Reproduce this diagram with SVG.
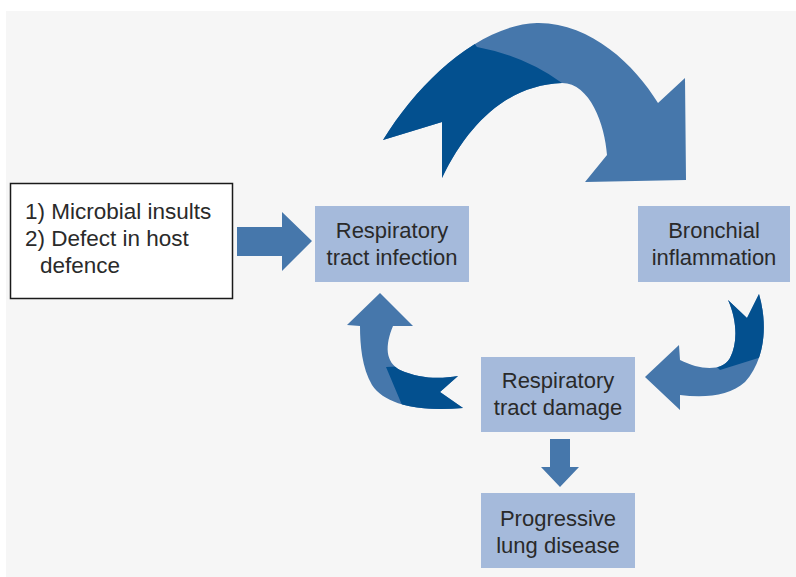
<svg xmlns="http://www.w3.org/2000/svg" width="796" height="577" viewBox="0 0 796 577">
<style>
.box{fill:#a5badb}
.t{font-family:"Liberation Sans",Arial,sans-serif;font-size:22px;fill:#2a2a2a;text-anchor:middle}
.tl{font-family:"Liberation Sans",Arial,sans-serif;font-size:22.5px;fill:#2a2a2a}
.lt{fill:#4677ab}
.dk{fill:#03508f}
</style>
<defs>
<clipPath id="cBig"><path d="M300,0 L440,0 L477,47 Q525,56 562,83 L562,210 L300,210 Z"/></clipPath>
<clipPath id="cR"><path d="M716,250 L800,250 L800,345 L720,370 L716,366 Z"/></clipPath>
<clipPath id="cL"><path d="M386,367 L402,405 L402,420 L480,420 L480,363 Z"/></clipPath>
</defs>
<rect x="6" y="11" width="790" height="566" fill="#f6f6f6"/>

<g id="connectors">
  <path id="arrowInput" class="lt" d="M237,227 L282,227 L282,212 L312,241 L282,271 L282,256 L237,256 Z"/>
  <g id="arrowBig">
    <path class="lt" d="M383,140 C420,80 480,25 537,23 C590,22 635,65 658,103 L685,78 L686,180 L585,182 L607,155 C605,125 590,83 562,83 C510,85 470,120 442,178 L442,122 Z"/>
    <path class="dk" clip-path="url(#cBig)" d="M383,140 C420,80 480,25 537,23 C590,22 635,65 658,103 L685,78 L686,180 L585,182 L607,155 C605,125 590,83 562,83 C510,85 470,120 442,178 L442,122 Z"/>
  </g>
  <g id="arrowRight">
    <path class="lt" d="M728,300 L747,318 L759,294 C768,325 765,360 745,382 C730,396 705,398 680,395 L680,410 L645,377 L679,345 L680,360 C700,370 722,372 730,358 C738,343 737,320 728,300 Z"/>
    <path class="dk" clip-path="url(#cR)" d="M728,300 L747,318 L759,294 C768,325 765,360 745,382 C730,396 705,398 680,395 L680,410 L645,377 L679,345 L680,360 C700,370 722,372 730,358 C738,343 737,320 728,300 Z"/>
  </g>
  <g id="arrowLeft">
    <path class="lt" d="M380,293 L413,326 L393,326 C385,345 385,362 400,370 C420,379 440,379 458,376 L440,392 L463,408 C420,412 385,405 372,385 C362,368 360,345 360,326 L347,325 Z"/>
    <path class="dk" clip-path="url(#cL)" d="M380,293 L413,326 L393,326 C385,345 385,362 400,370 C420,379 440,379 458,376 L440,392 L463,408 C420,412 385,405 372,385 C362,368 360,345 360,326 L347,325 Z"/>
  </g>
  <path id="arrowDown" class="lt" d="M550,439 L570,439 L570,467 L579,467 L560,487 L541,467 L550,467 Z"/>
</g>

<g id="causes">
  <rect x="10.5" y="183.5" width="222" height="115" fill="#ffffff" stroke="#1a1a1a" stroke-width="1.5"/>
  <text class="tl" x="25" y="219">1) Microbial insults</text>
  <text class="tl" x="25" y="246">2) Defect in host</text>
  <text class="tl" x="40" y="273">defence</text>
</g>

<g id="infection">
  <rect class="box" x="315" y="206" width="154" height="76"/>
  <text class="t" x="392" y="238">Respiratory</text>
  <text class="t" x="392" y="265">tract infection</text>
</g>

<g id="inflammation">
  <rect class="box" x="638" y="206" width="152" height="76"/>
  <text class="t" x="714" y="238">Bronchial</text>
  <text class="t" x="714" y="265">inflammation</text>
</g>

<g id="damage">
  <rect class="box" x="481" y="357" width="154" height="75"/>
  <text class="t" x="558" y="388">Respiratory</text>
  <text class="t" x="558" y="415">tract damage</text>
</g>

<g id="progressive">
  <rect class="box" x="481" y="493" width="154" height="75"/>
  <text class="t" x="558" y="526">Progressive</text>
  <text class="t" x="558" y="553">lung disease</text>
</g>
</svg>
